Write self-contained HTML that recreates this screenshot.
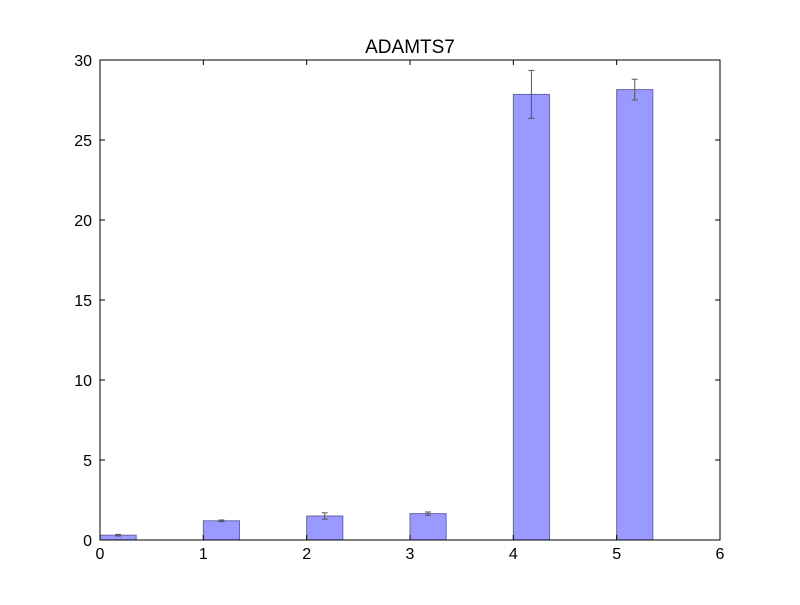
<!DOCTYPE html>
<html><head><meta charset="utf-8"><style>
body{margin:0;background:#fff;}
text{font-family:"Liberation Sans","DejaVu Sans",sans-serif;}
</style></head><body>
<svg id="chart" width="800" height="600">
<rect width="800" height="600" fill="#fff"/>
<text x="410" y="53" font-size="19" text-anchor="middle">ADAMTS7</text>
<g id="bars"></g>
<g id="axes"></g>
</svg>
<script>
const categories=[0,1,2,3,4,5];
const values=[0.3,1.2,1.5,1.65,27.85,28.15];
const errors=[0.05,0.05,0.2,0.1,1.5,0.65];
const xTicks=[0,1,2,3,4,5,6];
const yTicks=[0,5,10,15,20,25,30];
const L=100,R=720,T=60,B=540;
const xs=v=>L+(v-0)/6*(R-L);
const ys=v=>B-(v/30)*(B-T);
const NS="http://www.w3.org/2000/svg";
function mk(t,a,p){const e=document.createElementNS(NS,t);for(const k in a)e.setAttribute(k,a[k]);p.appendChild(e);return e;}
const bars=document.getElementById('bars'),axes=document.getElementById('axes');
const w=0.35;
categories.forEach((c,i)=>{
  const r=mk('rect',{x:xs(c),y:ys(values[i]),width:xs(c+w)-xs(c),height:ys(0)-ys(values[i]),fill:'#9999ff',stroke:'#6666aa','stroke-width':1},bars);
  
  
  const cx=xs(c+w/2),y1=ys(values[i]+errors[i]),y2=ys(values[i]-errors[i]);
  const g=mk('g',{stroke:'#555','stroke-width':1},bars);
  
  
  mk('line',{x1:cx,x2:cx,y1:y1,y2:y2},g);
  mk('line',{x1:cx-3,x2:cx+3,y1:y1,y2:y1},g);
  mk('line',{x1:cx-3,x2:cx+3,y1:y2,y2:y2},g);
});
const frame=mk('rect',{x:L,y:T,width:R-L,height:B-T,fill:'none',stroke:'#000','stroke-width':1},axes);


xTicks.forEach(v=>{
  const x=xs(v);
  mk('line',{x1:x,x2:x,y1:B,y2:B-5,stroke:'#000'},axes);
  mk('line',{x1:x,x2:x,y1:T,y2:T+5,stroke:'#000'},axes);
  const t=mk('text',{x:x,y:B+19,'font-size':16,'text-anchor':'middle'},axes);
  t.textContent=v;
  
  
});
yTicks.forEach(v=>{
  const y=ys(v);
  mk('line',{x1:L,x2:L+5,y1:y,y2:y,stroke:'#000'},axes);
  mk('line',{x1:R,x2:R-5,y1:y,y2:y,stroke:'#000'},axes);
  const t=mk('text',{x:L-8,y:y+6,'font-size':16,'text-anchor':'end'},axes);
  t.textContent=v;
  
  
});
</script>
</body></html>
